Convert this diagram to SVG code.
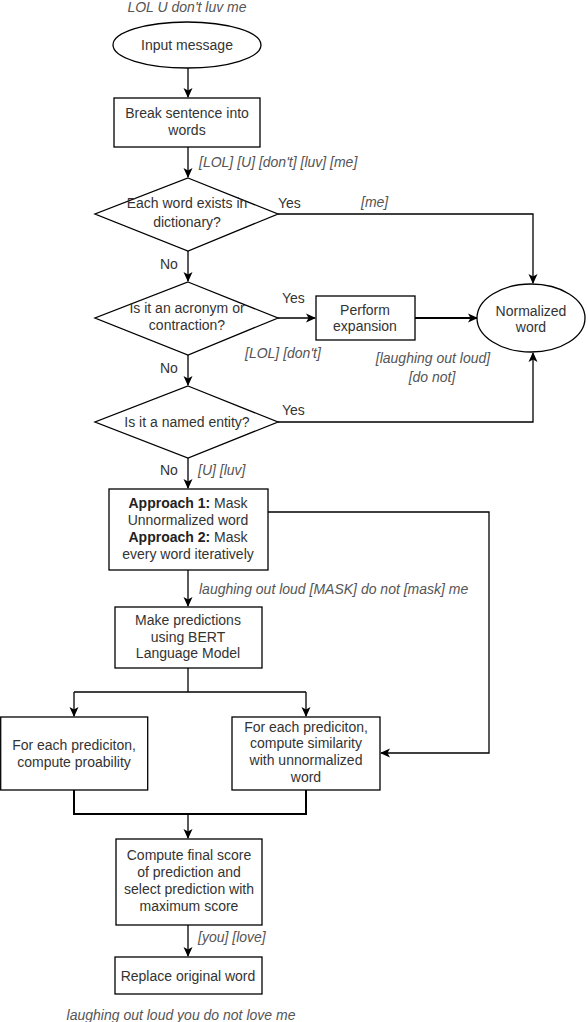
<svg xmlns="http://www.w3.org/2000/svg" width="588" height="1022" viewBox="0 0 588 1022">
<style>
  .node { fill: #ffffff; stroke: #000000; stroke-width: 1.3; }
  .t { font-family: "Liberation Sans", Arial, sans-serif; font-size: 14px; fill: #333333; text-anchor: middle; }
  .lbl { font-family: "Liberation Sans", Arial, sans-serif; font-size: 14px; fill: #555555; font-style: italic; }
  .yn { font-family: "Liberation Sans", Arial, sans-serif; font-size: 14px; fill: #333333; }
  .c { fill: none; stroke: #000000; stroke-width: 1.3; }
  .thick { stroke-width: 2; }
  .b { font-weight: bold; fill: #222222; }
</style>
<defs>
  <marker id="arr" markerUnits="userSpaceOnUse" markerWidth="10" markerHeight="10" viewBox="0 0 10 10" refX="9" refY="5" orient="auto">
    <path d="M0,0.5 L10,5 L0,9.5 L2.5,5 z" fill="#000000"/>
  </marker>
</defs>

<text class="lbl" x="187" y="12" text-anchor="middle">LOL U don't luv me</text>

<g id="connectors">
  <path class="c" d="M188,68 V97" marker-end="url(#arr)"/>
  <path class="c" d="M188,147 V177" marker-end="url(#arr)"/>
  <path class="c" d="M278,214 H533 V283" marker-end="url(#arr)"/>
  <path class="c" d="M188,251 V281" marker-end="url(#arr)"/>
  <path class="c" d="M278,318 H315" marker-end="url(#arr)"/>
  <path class="c thick" d="M415,318 H477" marker-end="url(#arr)"/>
  <path class="c" d="M188,355 V385" marker-end="url(#arr)"/>
  <path class="c" d="M278,422 H533 V353" marker-end="url(#arr)"/>
  <path class="c" d="M188,458 V488" marker-end="url(#arr)"/>
  <path class="c" d="M268,512 H489 V753 H381" marker-end="url(#arr)"/>
  <path class="c" d="M188,570 V606" marker-end="url(#arr)"/>
  <path class="c" d="M188,668 V692"/>
  <path class="c" d="M74,692 H306"/>
  <path class="c" d="M74,692 V716" marker-end="url(#arr)"/>
  <path class="c" d="M306,692 V716" marker-end="url(#arr)"/>
  <path class="c thick" d="M74,790 V814 H306 V790"/>
  <path class="c" d="M188,814 V838" marker-end="url(#arr)"/>
  <path class="c" d="M188,925 V956" marker-end="url(#arr)"/>
</g>

<g id="labels">
  <text class="lbl" x="199" y="167">[LOL] [U] [don't] [luv] [me]</text>
  <text class="yn" x="278" y="208">Yes</text>
  <text class="lbl" x="361" y="207">[me]</text>
  <text class="yn" x="160" y="269">No</text>
  <text class="yn" x="282" y="303">Yes</text>
  <text class="lbl" x="245" y="358">[LOL] [don't]</text>
  <text class="lbl" x="433" y="363" text-anchor="middle">[laughing out loud]</text>
  <text class="lbl" x="432" y="382" text-anchor="middle">[do not]</text>
  <text class="yn" x="160" y="373">No</text>
  <text class="yn" x="282" y="415">Yes</text>
  <text class="yn" x="160" y="475">No</text>
  <text class="lbl" x="198" y="475">[U] [luv]</text>
  <text class="lbl" x="199" y="594">laughing out loud [MASK] do not [mask] me</text>
  <text class="lbl" x="198" y="942">[you] [love]</text>
</g>

<g id="input-message">
  <ellipse class="node" cx="187" cy="45" rx="74" ry="23"/>
  <text class="t" x="187" y="50">Input message</text>
</g>

<g id="break-sentence">
  <rect class="node" x="114" y="98" width="146" height="49"/>
  <text class="t" x="187" y="118">Break sentence into</text>
  <text class="t" x="187" y="135">words</text>
</g>

<g id="dictionary-check">
  <polygon class="node" points="188,178 278,214 188,251 95,214"/>
  <text class="t" x="187" y="208">Each word exists in</text>
  <text class="t" x="187" y="227">dictionary?</text>
</g>

<g id="acronym-check">
  <polygon class="node" points="188,282 278,318 188,355 95,318"/>
  <text class="t" x="187" y="313">Is it an acronym or</text>
  <text class="t" x="187" y="330">contraction?</text>
</g>

<g id="perform-expansion">
  <rect class="node" x="316" y="296" width="99" height="44" stroke-width="1.6"/>
  <text class="t" x="365" y="315">Perform</text>
  <text class="t" x="365" y="331">expansion</text>
</g>

<g id="normalized-word">
  <ellipse class="node" cx="531" cy="318" rx="54" ry="34"/>
  <text class="t" x="531" y="316">Normalized</text>
  <text class="t" x="531" y="332">word</text>
</g>

<g id="named-entity-check">
  <polygon class="node" points="188,386 278,422 188,458 95,422"/>
  <text class="t" x="187" y="427">Is it a named entity?</text>
</g>

<g id="mask-approach">
  <rect class="node" x="109" y="489" width="159" height="81"/>
  <text class="t" x="188" y="508"><tspan class="b">Approach 1:</tspan> Mask</text>
  <text class="t" x="188" y="525">Unnormalized word</text>
  <text class="t" x="188" y="542"><tspan class="b">Approach 2:</tspan> Mask</text>
  <text class="t" x="188" y="559">every word iteratively</text>
</g>

<g id="bert-predictions">
  <rect class="node" x="115" y="607" width="147" height="61"/>
  <text class="t" x="188" y="625">Make predictions</text>
  <text class="t" x="188" y="642">using BERT</text>
  <text class="t" x="188" y="658">Language Model</text>
</g>

<g id="compute-probability">
  <rect class="node" x="0.7" y="717" width="147" height="73"/>
  <text class="t" x="74" y="750">For each prediciton,</text>
  <text class="t" x="74" y="767">compute proability</text>
</g>

<g id="compute-similarity">
  <rect class="node" x="232" y="717" width="148" height="73"/>
  <text class="t" x="306" y="732">For each prediciton,</text>
  <text class="t" x="306" y="748">compute similarity</text>
  <text class="t" x="306" y="765">with unnormalized</text>
  <text class="t" x="306" y="782">word</text>
</g>

<g id="final-score">
  <rect class="node" x="116" y="839" width="146" height="86"/>
  <text class="t" x="189" y="860">Compute final score</text>
  <text class="t" x="189" y="877">of prediction and</text>
  <text class="t" x="189" y="894">select prediction with</text>
  <text class="t" x="189" y="911">maximum score</text>
</g>

<g id="replace-word">
  <rect class="node" x="115" y="957" width="147" height="37"/>
  <text class="t" x="188" y="981">Replace original word</text>
</g>

<text class="lbl" x="181" y="1020" text-anchor="middle">laughing out loud you do not love me</text>
</svg>
